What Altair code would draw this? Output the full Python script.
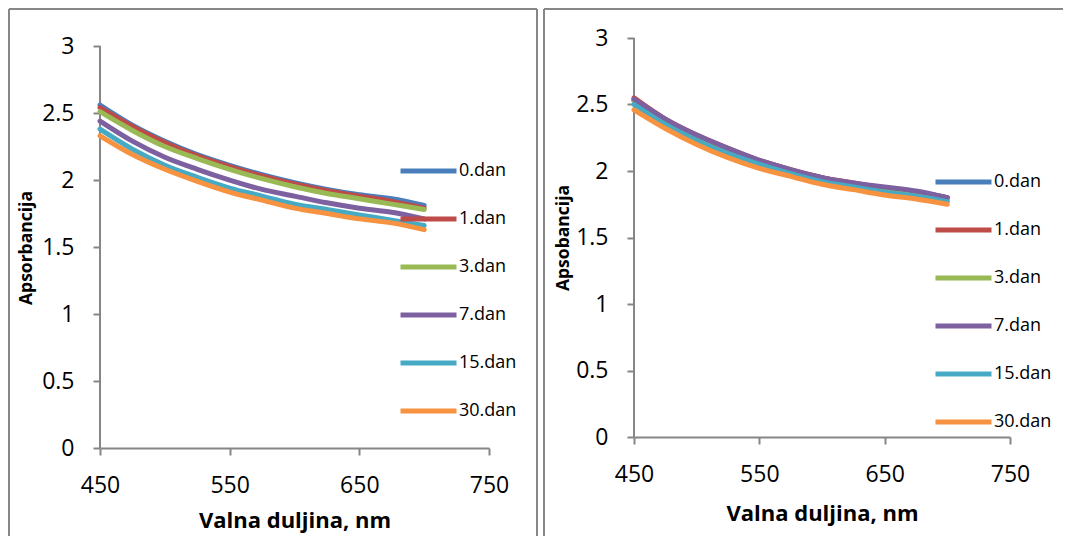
import altair as alt
import pandas as pd

# ---- data ----
wavelengths = [450, 475, 500, 525, 550, 575, 600, 625, 650, 675, 700]
series_names = ["0.dan", "1.dan", "3.dan", "7.dan", "15.dan", "30.dan"]
series_colors = ["#4A7EBB", "#BE4B48", "#98B954", "#7D60A0", "#46AAC5", "#F69240"]

# left panel
left_d0 = [2.56, 2.41, 2.29, 2.19, 2.11, 2.04, 1.98, 1.93, 1.89, 1.86, 1.81]
left_d1 = [2.54, 2.40, 2.28, 2.18, 2.10, 2.03, 1.97, 1.92, 1.88, 1.84, 1.79]
left_d3 = [2.51, 2.37, 2.25, 2.16, 2.08, 2.01, 1.95, 1.90, 1.86, 1.82, 1.78]
left_d7 = [2.44, 2.29, 2.17, 2.08, 2.00, 1.93, 1.88, 1.83, 1.79, 1.76, 1.71]
left_d15 = [2.38, 2.23, 2.11, 2.02, 1.94, 1.88, 1.82, 1.78, 1.74, 1.70, 1.66]
left_d30 = [2.33, 2.19, 2.08, 1.99, 1.91, 1.85, 1.79, 1.75, 1.71, 1.68, 1.63]

# right panel
right_d0 = [2.53, 2.38, 2.26, 2.16, 2.07, 2.00, 1.95, 1.90, 1.87, 1.84, 1.80]
right_d1 = [2.55, 2.39, 2.27, 2.17, 2.08, 2.01, 1.95, 1.91, 1.87, 1.84, 1.80]
right_d3 = [2.53, 2.38, 2.26, 2.16, 2.07, 2.00, 1.94, 1.90, 1.86, 1.83, 1.79]
right_d7 = [2.54, 2.39, 2.27, 2.17, 2.08, 2.01, 1.95, 1.91, 1.88, 1.85, 1.80]
right_d15 = [2.50, 2.35, 2.23, 2.13, 2.05, 1.98, 1.92, 1.88, 1.84, 1.81, 1.77]
right_d30 = [2.46, 2.32, 2.20, 2.10, 2.02, 1.96, 1.90, 1.86, 1.82, 1.79, 1.75]

x_ticks = [450, 550, 650, 750]
y_ticks = [0, 0.5, 1, 1.5, 2, 2.5, 3]
y_axis_span = [0, 3]

FONT = "Open Sans"
AXIS_GRAY = "#868686"
FRAME_GRAY = "#878787"


def long_table(series_lists):
    rows = []
    for name, vals in zip(series_names, series_lists):
        for wl, v in zip(wavelengths, vals):
            rows.append({"serija": name, "wl": wl, "abs": v})
    return pd.DataFrame(rows)


def frame_layer(segments):
    layers = []
    for a, b, c, d in segments:
        layers.append(
            alt.Chart(alt.Data(values=[{"k": 1}])).mark_rule(stroke=FRAME_GRAY, strokeWidth=2).encode(
                x=alt.value(a), x2=alt.value(b), y=alt.value(c), y2=alt.value(d))
        )
    return layers


def panel(series_lists, y_title, w, h, y_top, segments, leg_x, leg_y, ytitle_x, ytitle_y, xtitle_y):
    df = long_table(series_lists)
    x_scale = alt.Scale(domain=[450, 750], nice=False, zero=False)
    y_scale = alt.Scale(domain=[0, y_top], nice=False)
    lines = alt.Chart(df).mark_line(
        strokeWidth=5, strokeCap="round", strokeJoin="round", interpolate="monotone"
    ).encode(
        x=alt.X("wl:Q", scale=x_scale,
                axis=alt.Axis(values=x_ticks, title="Valna duljina, nm", format="d",
                              labelFlush=False, titleY=xtitle_y, titleBaseline="middle")),
        y=alt.Y("abs:Q", scale=y_scale,
                axis=alt.Axis(values=y_ticks, title=y_title, format="~g", domain=False,
                              titleX=ytitle_x, titleY=ytitle_y, titleAngle=270,
                              titleAlign="center", titleBaseline="middle")),
        color=alt.Color("serija:N", sort=series_names,
                        scale=alt.Scale(domain=series_names, range=series_colors),
                        legend=alt.Legend(orient="none", legendX=leg_x, legendY=leg_y,
                                          title=None, symbolType="M-3,0H1", symbolSize=784,
                                          symbolStrokeWidth=5, labelFont=FONT, labelFontSize=18,
                                          labelColor="black", labelOffset=0, rowPadding=21,
                                          padding=0)),
    )
    # y axis line drawn from 0 to 3 in data units
    axis_df = pd.DataFrame({"wl": [x_ticks[0]], "y0": [y_axis_span[0]], "y1": [y_axis_span[1]]})
    yline = alt.Chart(axis_df).mark_rule(stroke=AXIS_GRAY, strokeWidth=2).encode(
        x=alt.X("wl:Q", scale=x_scale), y=alt.Y("y0:Q", scale=y_scale), y2="y1:Q")
    return alt.layer(*frame_layer(segments), yline, lines).properties(width=w, height=h)


# both plot origins share the same y; the left plot reaches 8px higher above "3"
left = panel([left_d0, left_d1, left_d3, left_d7, left_d15, left_d30],
             "Apsorbancija", 389, 410, 3.06,
             [(-91, 437, -29, -29), (-91, -91, -29, 507), (437, 437, -29, 507)],
             326, 116.5, -74, 209.5, 72)
right = panel([right_d0, right_d1, right_d3, right_d7, right_d15, right_d30],
              "Apsobancija", 376, 399, 3.0,
              [(-90, 429, -29, -29), (-90, -90, -29, 507)],
              327, 127.5, -71, 199.5, 76)

chart = alt.hconcat(left, right, spacing=5).resolve_scale(color="independent").resolve_legend(
    color="independent"
).properties(padding=0).configure_view(
    strokeWidth=0
).configure_axis(
    grid=False, domainColor=AXIS_GRAY, domainWidth=2, tickColor=AXIS_GRAY, tickWidth=2,
    tickSize=7, labelFont=FONT, labelFontSize=23, labelColor="black", labelPadding=19,
    titleFont=FONT, titleFontWeight="bold", titleColor="black"
).configure_axisX(titleFontSize=22).configure_axisY(titleFontSize=17.5)

chart.save("out.html", embed_options={"renderer": "svg", "actions": False})
